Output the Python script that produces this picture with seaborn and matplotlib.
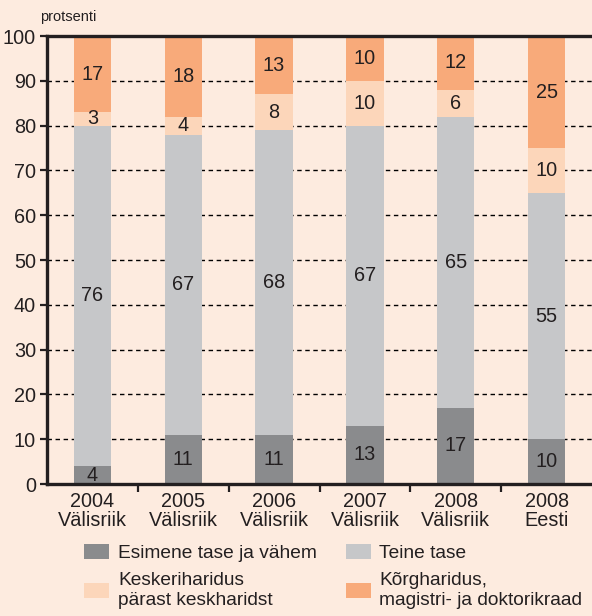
import numpy as np
import pandas as pd
import matplotlib
matplotlib.use("Agg")
import matplotlib.pyplot as plt
from matplotlib.patches import Patch
from matplotlib.ticker import FixedLocator
import seaborn as sns

# Education level shares (percent) by year and origin of degree
categories = ["2004\nVälisriik", "2005\nVälisriik", "2006\nVälisriik",
              "2007\nVälisriik", "2008\nVälisriik", "2008\nEesti"]
esimene = [4, 11, 11, 13, 17, 10]
teine = [76, 67, 68, 67, 65, 55]
keskeri = [3, 4, 8, 10, 6, 10]
korg = [17, 18, 13, 10, 12, 25]

series_names = ["Esimene tase ja vähem", "Teine tase",
                "Keskeriharidus\npärast keskharidst",
                "Kõrgharidus,\nmagistri- ja doktorikraad"]
yticks = [0, 10, 20, 30, 40, 50, 60, 70, 80, 90, 100]

BG = "#fdebdf"
INK = "#231f20"
FS = 14.3
LEG_FS = 13.8
colors = {
    "Esimene tase ja vähem": "#8a8b8d",
    "Teine tase": "#c6c7c9",
    "Keskeriharidus\npärast keskharidst": "#fcd6ba",
    "Kõrgharidus,\nmagistri- ja doktorikraad": "#f8aa7a",
}

sns.set_theme(style="white")
plt.rcParams["font.family"] = ["Liberation Sans", "DejaVu Sans"]

df = pd.DataFrame({
    "category": categories,
    series_names[0]: esimene,
    series_names[1]: teine,
    series_names[2]: keskeri,
    series_names[3]: korg,
})
cum = df[series_names].cumsum(axis=1)

fig = plt.figure(figsize=(5.92, 6.16), dpi=100, facecolor=BG)
ax = fig.add_axes([47 / 592, 1 - 484 / 616, 1 - 47 / 592, (484 - 36) / 616])
ax.set_facecolor(BG)

# Dashed reference lines behind the bars
ax.set_axisbelow(True)
ax.yaxis.grid(True, color="black", linestyle=(0, (3.2, 2.6)), linewidth=1.0)

# Stacked bars: draw cumulative totals from the top layer down
for name in reversed(series_names):
    sns.barplot(x=df["category"], y=cum[name], color=colors[name],
                saturation=1, width=0.41, ax=ax, zorder=2,
                edgecolor="none", linewidth=0)

# Segment value labels
for i in range(len(categories)):
    bottom = 0
    for name in series_names:
        v = df[name].iloc[i]
        ax.text(i, bottom + v / 2, f"{v}", ha="center", va="center",
                fontsize=FS, color=INK, zorder=3)
        bottom += v

ax.set_xlim(-0.5, len(categories) - 0.5)
ax.set_ylim(0, 100)
ax.set_yticks(yticks)
ax.set_xlabel("")
ax.set_ylabel("")

for side in ["left", "bottom", "top"]:
    ax.spines[side].set_visible(True)
    ax.spines[side].set_color(INK)
    ax.spines[side].set_linewidth(2.4)
ax.spines["right"].set_visible(False)

ax.tick_params(axis="y", which="major", left=True, length=5, width=1.6,
               color=INK, labelsize=FS, labelcolor=INK, pad=3)
ax.tick_params(axis="x", which="major", bottom=True, length=0,
               labelsize=FS, labelcolor=INK, pad=6)
ax.xaxis.set_minor_locator(FixedLocator(np.arange(0.5, len(categories) - 0.5, 1)))
ax.tick_params(axis="x", which="minor", bottom=True, length=6, width=1.6,
               color=INK, direction="out")
for lbl in ax.get_xticklabels():
    lbl.set_linespacing(1.0)

fig.text(40 / 592, 1 - 17 / 616, "protsenti", fontsize=10.5, color=INK,
         ha="left", va="center")

order = [series_names[0], series_names[2], series_names[1], series_names[3]]
handles = [Patch(facecolor=colors[n], edgecolor="none") for n in order]
leg = fig.legend(handles, order, ncol=2, loc="upper left",
                 bbox_to_anchor=(67 / 592, 1 - 527 / 616), frameon=False,
                 fontsize=LEG_FS, handlelength=1.3, handleheight=0.78,
                 handletextpad=0.46, columnspacing=1.5, labelspacing=0.52,
                 labelcolor=INK)
for t in leg.get_texts():
    t.set_multialignment("left")
    t.set_linespacing(1.25)

fig.savefig("out.png", dpi=100, facecolor=BG)
